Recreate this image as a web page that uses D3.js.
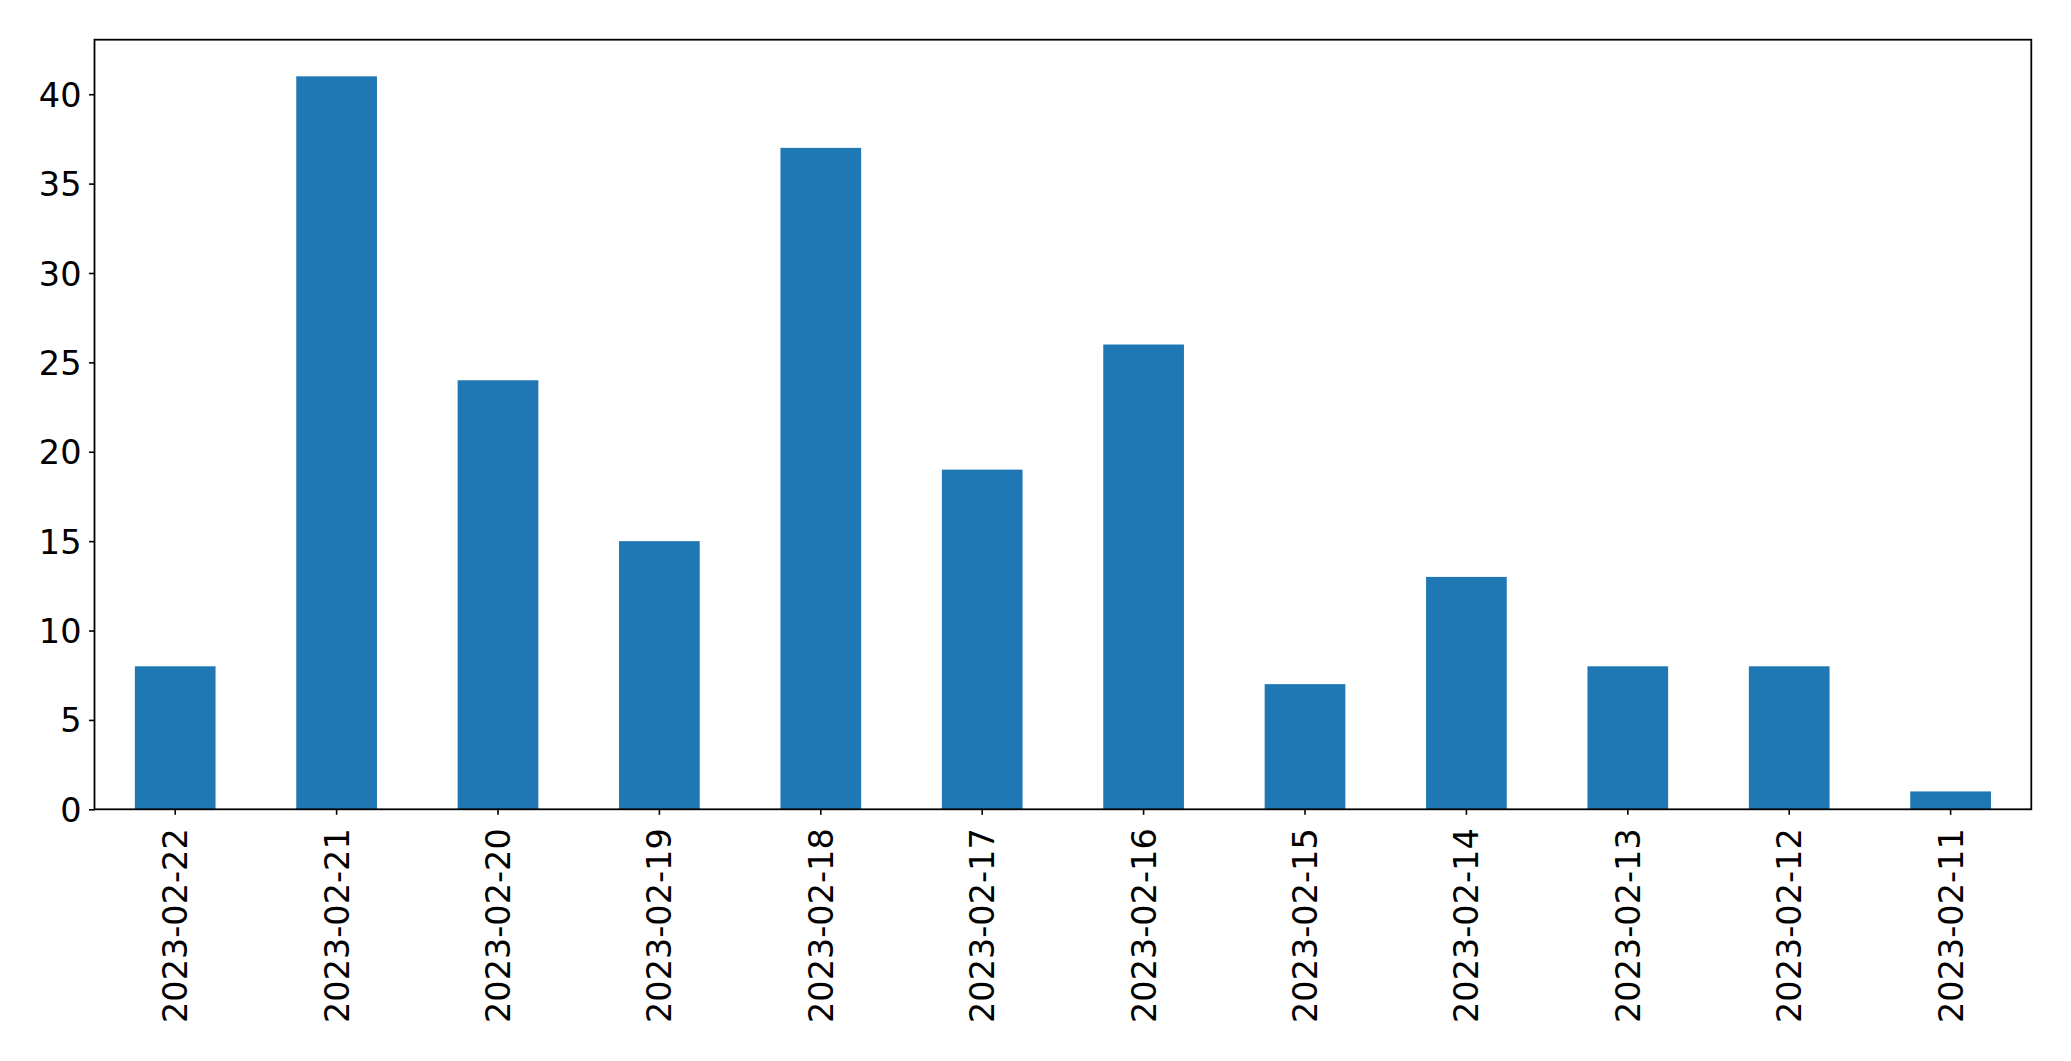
<!DOCTYPE html>
<html>
<head>
<meta charset="utf-8">
<script src="https://cdn.jsdelivr.net/npm/d3@7"></script>
<style>
  html, body { margin: 0; padding: 0; background: #ffffff; }
  svg { display: block; }
  text { font-family: "DejaVu Sans", sans-serif; fill: #000; }
</style>
</head>
<body>
<svg id="chart" width="2071" height="1061"></svg>
<script>
const categories = ["2023-02-22","2023-02-21","2023-02-20","2023-02-19","2023-02-18","2023-02-17","2023-02-16","2023-02-15","2023-02-14","2023-02-13","2023-02-12","2023-02-11"];
const values = [8, 41, 24, 15, 37, 19, 26, 7, 13, 8, 8, 1];
const yTicks = [0, 5, 10, 15, 20, 25, 30, 35, 40];

const svg = d3.select("#chart");
const margin = { left: 94.5, top: 39.7, right: 2031.3, bottom: 809.3 };
const fontSize = 33.5;

const x = d3.scaleBand()
  .domain(categories)
  .range([margin.left, margin.right])
  .paddingInner(0.5)
  .paddingOuter(0.25);

const y = d3.scaleLinear()
  .domain([0, d3.max(values) * 1.05])
  .range([margin.bottom, margin.top]);

// bars
svg.append("g")
  .selectAll("rect")
  .data(values)
  .join("rect")
  .attr("x", (d, i) => x(categories[i]))
  .attr("width", x.bandwidth())
  .attr("y", d => y(d))
  .attr("height", d => y(0) - y(d))
  .attr("fill", "#1f77b4");

// y axis
const yAxis = svg.append("g")
  .attr("transform", `translate(${margin.left},0)`)
  .call(d3.axisLeft(y).tickValues(yTicks).tickSize(5.5).tickPadding(7.5).tickFormat(d3.format("d")));
yAxis.select(".domain").remove();
yAxis.selectAll(".tick line").attr("stroke", "#000").attr("stroke-width", 1.6);
yAxis.selectAll(".tick text")
  .attr("font-family", "DejaVu Sans, sans-serif")
  .attr("font-size", fontSize)
  .attr("fill", "#000")
  .attr("dy", "0.36em");

// x axis
const xAxis = svg.append("g")
  .attr("transform", `translate(0,${margin.bottom})`)
  .call(d3.axisBottom(x).tickSize(5.5).tickPadding(0));
xAxis.select(".domain").remove();
xAxis.selectAll(".tick line").attr("stroke", "#000").attr("stroke-width", 1.6);
xAxis.selectAll(".tick text")
  .attr("font-family", "DejaVu Sans, sans-serif")
  .attr("font-size", fontSize)
  .attr("fill", "#000")
  .attr("text-anchor", "end")
  .attr("dy", "0.36em")
  .attr("transform", "translate(0,19) rotate(-90)")
  .attr("x", 0)
  .attr("y", 0);

// frame
svg.append("rect")
  .attr("x", margin.left)
  .attr("y", margin.top)
  .attr("width", margin.right - margin.left)
  .attr("height", margin.bottom - margin.top)
  .attr("fill", "none")
  .attr("stroke", "#000")
  .attr("stroke-width", 1.8);
</script>
</body>
</html>
